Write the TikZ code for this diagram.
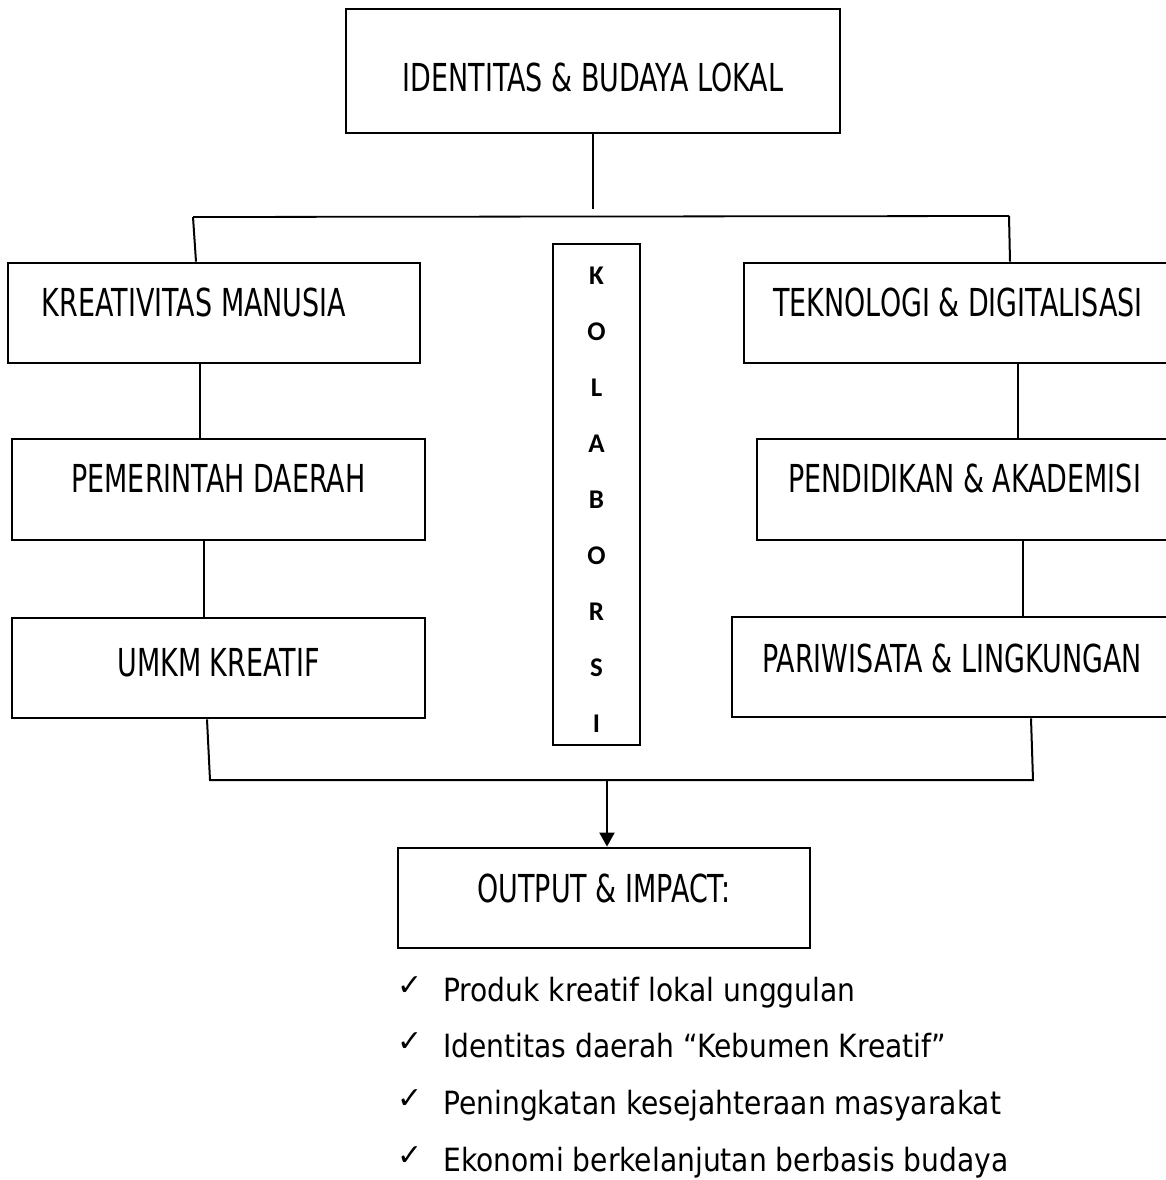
\documentclass[tikz,border=0pt]{standalone}
\usepackage{fontspec}
\usetikzlibrary{arrows.meta}
\newfontfamily\boxfont[FakeStretch=0.70]{DejaVu Sans}
\newfontfamily\listfont[FakeStretch=0.88]{DejaVu Sans}
\newfontfamily\kolfont{Carlito}
\newfontfamily\tickfont{DejaVu Sans}

\tikzset{
  box/.style={draw, line width=2.8pt, inner sep=0pt,
    font=\boxfont\fontsize{38.5}{40}\selectfont, text height=28pt, text depth=#1},
  box/.default=22pt,
  conn/.style={line width=2pt},
  kolchar/.style={font=\kolfont\bfseries\fontsize{27}{28}\selectfont, inner sep=0pt},
  item/.style={anchor=base west, inner sep=0pt, font=\listfont\fontsize{32}{34}\selectfont},
  tick/.style={anchor=base west, inner sep=0pt, font=\tickfont\fontsize{30}{32}\selectfont},
}

\begin{document}
\begin{tikzpicture}[x=1pt, y=-1pt]
    \useasboundingbox (0,0) rectangle (1165,1180);

    \node [box=0pt, text height=41pt, minimum width=494, minimum height=124] (top) at (593,71) {IDENTITAS \& BUDAYA LOKAL};

    \node [box=22pt, minimum width=412, minimum height=100] (km) at (214,313) {KREATIVITAS MANUSIA\hspace*{40pt}};
    \node [box=23pt, minimum width=413, minimum height=101] (pd) at (218.5,489.5) {PEMERINTAH DAERAH};
    \node [box=12pt, minimum width=413, minimum height=100] (umkm) at (218.5,668) {UMKM KREATIF};

    \node [box=22pt, minimum width=428, minimum height=100] (td) at (958,313) {TEKNOLOGI \& DIGITALISASI};
    \node [box=23pt, minimum width=415, minimum height=101] (pa) at (964.5,489.5) {PENDIDIKAN \& AKADEMISI};
    \node [box=18pt, minimum width=440, minimum height=100] (pl) at (952,667) {PARIWISATA \& LINGKUNGAN};

    \node [box=0pt, minimum width=87, minimum height=501] (kol) at (596.5,494.5) {};
    \foreach \ch [count=\i from 0] in {K,O,L,A,B,O,R,S,I}
        \node [kolchar] (kl\i) at (596.5,{276+56*\i}) {\ch};

    \node [box=20pt, minimum width=412, minimum height=100] (out) at (604,898) {OUTPUT \& IMPACT:};

    \foreach \txt [count=\i from 0] in {Produk kreatif lokal unggulan,
            Identitas daerah “Kebumen Kreatif”,
            Peningkatan kesejahteraan masyarakat,
            Ekonomi berkelanjutan berbasis budaya} {
        \node [tick] (ck\i) at (397,{995+56.8*\i}) {✓};
        \node [item] (it\i) at (443,{1001+56.8*\i}) {\txt};
    }

    \coordinate (tj) at (593,209);
    \coordinate (bl) at (193,217);
    \coordinate (br) at (1009,216);
    \coordinate (jl) at (210,780);
    \coordinate (jr) at (1033,780);
    \coordinate (jm) at (607,780);

    \draw [line width=1.3pt] (top.south) -- (tj);
    \draw [line width=1.8pt] (bl) -- (br);
    \path [conn]
                (bl) edge ([xshift=-18pt]km.north)
                (br) edge ([xshift=52pt]td.north)
                ([xshift=-14pt]km.south) edge ([xshift=-18.5pt]pd.north)
                ([xshift=-14.5pt]pd.south) edge ([xshift=-14.5pt]umkm.north)
                ([xshift=60pt]td.south) edge ([xshift=53.5pt]pa.north)
                ([xshift=58.5pt]pa.south) edge ([xshift=71pt]pl.north);
    \draw [conn] ([xshift=-11.5pt]umkm.south) -- (jl) -- (jr) -- ([xshift=79pt]pl.south);
    \draw [conn, -{Triangle[width=15pt, length=14pt]}] (jm) -- ([xshift=3pt]out.north);
\end{tikzpicture}
\end{document}
